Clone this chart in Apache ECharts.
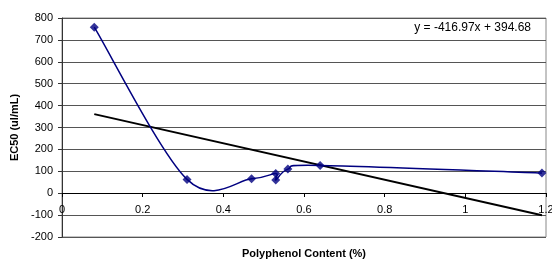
<html>
<head>
<meta charset="utf-8">
<script src="https://cdn.jsdelivr.net/npm/echarts@6/dist/echarts.min.js"></script>
</head>
<body style="margin:0">
<style>
  html, body, #main { width: 552px; height: 264px; background: #fff; }
</style>
<div id="main"></div>
<script>
// values
var polyphenol = [0.08, 0.31, 0.47, 0.53, 0.53, 0.56, 0.64, 1.19];
var ec50 = [758, 63, 66, 90, 60, 110, 127, 92];
// linear trendline ends (y = -416.97x + 394.68)
var trendX = [0.08, 1.19];
var trendY = [361, -101];
var equation = 'y = -416.97x + 394.68';

var chart = echarts.init(document.getElementById('main'));
var font = 'Liberation Sans, Arial, sans-serif';
var points = polyphenol.map(function (x, i) { return [x, ec50[i]]; });

// spreadsheet-style smoothed line (catmull-rom through the points)
function renderSmooth(params, api) {
    if (params.dataIndex !== 0) return;
    var p = points.map(function (d) { return api.coord(d); });
    var n = p.length;
    var d = 'M' + p[0][0] + ' ' + p[0][1];
    for (var i = 0; i < n - 1; i++) {
        var p0 = p[Math.max(i - 1, 0)], p1 = p[i], p2 = p[i + 1], p3 = p[Math.min(i + 2, n - 1)];
        var c1x = p1[0] + (p2[0] - p0[0]) / 6, c1y = p1[1] + (p2[1] - p0[1]) / 6;
        var c2x = p2[0] - (p3[0] - p1[0]) / 6, c2y = p2[1] - (p3[1] - p1[1]) / 6;
        d += ' C' + c1x + ' ' + c1y + ' ' + c2x + ' ' + c2y + ' ' + p2[0] + ' ' + p2[1];
    }
    return {
        type: 'path',
        shape: { pathData: d },
        style: { fill: null, stroke: '#000080', lineWidth: 1.5 }
    };
}

chart.setOption({
    animation: false,
    grid: {
        left: 62, right: 6, top: 18, bottom: 27,
        outerBoundsMode: 'none',
        show: true, borderColor: '#888', borderWidth: 1
    },
    graphic: [{
        type: 'text', right: 21, top: 22,
        style: { text: equation, font: '12px ' + font, fill: '#000' }
    }],
    xAxis: {
        type: 'value', min: 0, max: 1.2, interval: 0.2,
        // axis sits on y = 0 (grid bottom is y = -200)
        offset: -44,
        name: 'Polyphenol Content (%)',
        nameLocation: 'middle', nameGap: 55,
        nameTextStyle: { fontFamily: font, fontSize: 11, fontWeight: 'bold', color: '#000' },
        axisLine: { onZero: false, lineStyle: { color: '#000', width: 1 } },
        axisTick: { show: true, length: 4, lineStyle: { color: '#000' } },
        axisLabel: { fontFamily: font, fontSize: 11, color: '#000', margin: 11 },
        splitLine: { show: false }
    },
    yAxis: {
        type: 'value', min: -200, max: 800, interval: 100,
        name: 'EC50 (ul/mL)',
        nameLocation: 'middle', nameGap: 40,
        nameTextStyle: { fontFamily: font, fontSize: 11, fontWeight: 'bold', color: '#000' },
        axisLine: { show: true, onZero: false, lineStyle: { color: '#333', width: 1 } },
        axisTick: { show: true, length: 4, lineStyle: { color: '#333' } },
        axisLabel: { fontFamily: font, fontSize: 11, color: '#000', margin: 9 },
        splitLine: { show: true, lineStyle: { color: '#555', width: 1 } }
    },
    series: [{
        type: 'custom',
        renderItem: renderSmooth,
        data: points,
        z: 3
    }, {
        type: 'scatter',
        data: points,
        symbol: 'diamond', symbolSize: 9,
        itemStyle: { color: '#000080' },
        z: 4
    }, {
        type: 'line',
        data: trendX.map(function (x, i) { return [x, trendY[i]]; }),
        symbol: 'none',
        lineStyle: { color: '#000', width: 2 },
        z: 2
    }]
});
</script>
</body>
</html>
